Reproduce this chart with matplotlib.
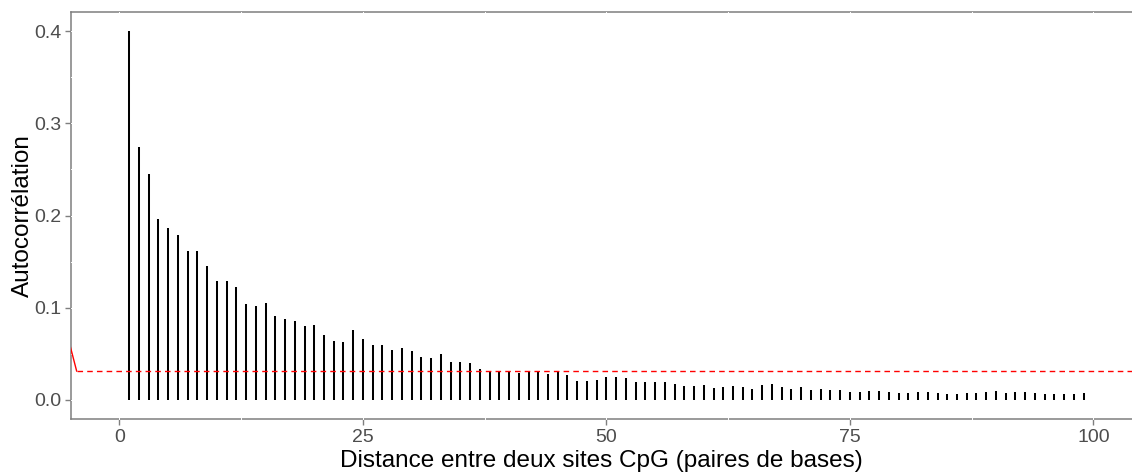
import numpy as np
import matplotlib
matplotlib.use('Agg')
import matplotlib.pyplot as plt

plt.rcParams['font.family'] = ['Liberation Sans', 'DejaVu Sans']

# autocorrelation by distance (lag, bp)
lags = list(range(1, 100))
acf = [
    0.400, 0.2745, 0.2447, 0.196, 0.186, 0.179, 0.1615, 0.161, 0.145, 0.1287,
    0.129, 0.122, 0.104, 0.1015, 0.1055, 0.091, 0.088, 0.0856, 0.080, 0.0813,
    0.0710, 0.0643, 0.0625, 0.0760, 0.0663, 0.060, 0.060, 0.0543, 0.0567, 0.0531,
    0.0466, 0.0452, 0.0502, 0.0408, 0.0408, 0.0398, 0.0333, 0.0318, 0.0307, 0.0316,
    0.0298, 0.0304, 0.0304, 0.0282, 0.0314, 0.0275, 0.0206, 0.0206, 0.0217, 0.0246,
    0.0246, 0.0235, 0.0195, 0.0192, 0.0192, 0.0192, 0.0170, 0.0155, 0.0148, 0.0163,
    0.0134, 0.0141, 0.0152, 0.0137, 0.0119, 0.0163, 0.0173, 0.0141, 0.0117, 0.0137,
    0.0112, 0.0116, 0.0105, 0.0108, 0.0083, 0.0087, 0.0101, 0.0101, 0.0083, 0.0072,
    0.0080, 0.0087, 0.0087, 0.0080, 0.0061, 0.0065, 0.0072, 0.0080, 0.0087, 0.0098,
    0.0072, 0.0083, 0.0087, 0.0076, 0.0065, 0.0065, 0.0065, 0.0069, 0.0072,
]

# fitted decay (visible part) and its asymptote
fit_x = [-5.2, -4.4]
fit_y = [0.064, 0.0314]
plateau = 0.0314

x_major = [0, 25, 50, 75, 100]
x_minor = [12.5, 37.5, 62.5, 87.5]
y_major = [0.0, 0.1, 0.2, 0.3, 0.4]
y_minor = [0.05, 0.15, 0.25, 0.35]

fig = plt.figure(figsize=(11.32, 4.76), dpi=100)
ax = fig.add_axes([71 / 1132, 1 - 419 / 476, 1 - 71 / 1132, (419 - 12) / 476])

ax.vlines(lags, 0, acf, color='black', lw=1.45, zorder=4)
ax.plot(fit_x, fit_y, color='red', lw=1.0, zorder=4)
ax.plot([fit_x[-1], 110], [plateau, plateau], color='red', lw=1.0,
        linestyle=(0, (4, 3)), zorder=4)

ax.set_xlim(-4.98, 103.97)
ax.set_ylim(-0.0206, 0.4206)

# white panel grid, only visible where it crosses the border
for xv in x_major + x_minor:
    ax.axvline(xv, color='white', lw=0.7, zorder=3, clip_on=False)
for yv in y_major + y_minor:
    ax.axhline(yv, color='white', lw=0.7, zorder=3, clip_on=False)

ax.set_xticks(x_major)
ax.set_yticks(y_major)
ax.set_xticklabels([str(v) for v in x_major])
ax.set_yticklabels([f'{v:.1f}' for v in y_major])

for side in ['left', 'bottom', 'top']:
    ax.spines[side].set_color('#7F7F7F')
    ax.spines[side].set_linewidth(1.1)
    ax.spines[side].set_zorder(2)
ax.spines['right'].set_visible(False)

ax.tick_params(axis='both', colors='#7F7F7F', labelcolor='#4D4D4D',
               labelsize=14, length=4, width=1.0, pad=3)

ax.set_xlabel('Distance entre deux sites CpG (paires de bases)',
              fontsize=17.5, color='black', labelpad=3)
ax.set_ylabel('Autocorrélation', fontsize=17.5, color='black', labelpad=0)

plt.savefig('out.png', dpi=100)
plt.close()
